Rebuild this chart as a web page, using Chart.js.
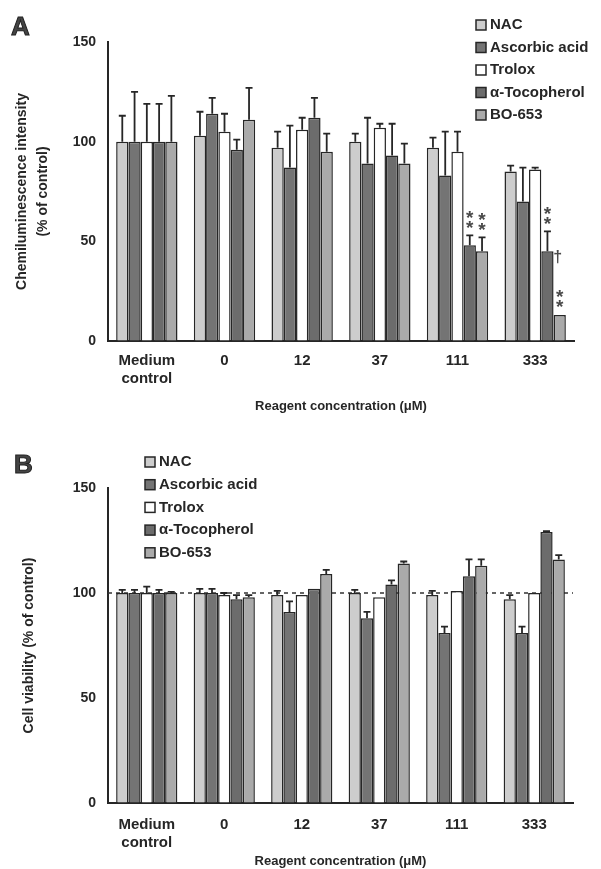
<!DOCTYPE html>
<html><head><meta charset="utf-8">
<script src="https://cdn.jsdelivr.net/npm/chart.js@4"></script>
<style>
html,body{margin:0;padding:0;background:#fff;}
#wrap{position:relative;width:601px;height:869px;overflow:hidden;}
.panel{position:absolute;left:0;width:601px;}
canvas{display:block;}
</style></head><body>
<div id="wrap">
<div class="panel" style="top:0;height:420px"><canvas id="cA" width="601" height="420"></canvas></div>
<div class="panel" style="top:420px;height:449px"><canvas id="cB" width="601" height="449"></canvas></div>
</div>
<script>
// ---------- data ----------
const categories = [['Medium', 'control'], '0', '12', '37', '111', '333'];
const seriesNames = ['NAC', 'Ascorbic acid', 'Trolox', 'α-Tocopherol', 'BO-653'];
const yTicks = [0, 50, 100, 150];

// Panel A: chemiluminescence intensity (% of control), mean and upper SD
const nacA = [100, 103, 97, 100, 97, 85];
const ascA = [100, 114, 87, 89, 83, 70];
const troA = [100, 105, 106, 107, 95, 86];
const tocA = [100, 96, 112, 93, 48, 45];
const boA  = [100, 111, 95, 89, 45, 13];
const nacAsd = [13, 12, 8, 4, 5, 3];
const ascAsd = [25, 8, 21, 23, 22, 17];
const troAsd = [19, 9, 6, 2, 10, 1];
const tocAsd = [19, 5, 10, 16, 5, 10];
const boAsd  = [23, 16, 9, 10, 7, 0];

// Panel A significance marks: category index, series index, mark
const markCats   = [4, 4, 5, 5, 5];
const markSeries = [3, 4, 3, 4, 4];
const markTexts  = ['**', '**', '**', '**', '†'];

// Panel B: cell viability (% of control), mean and upper SD
const nacB = [100, 100, 99, 100, 99, 97];
const ascB = [100, 100, 91, 88, 81, 81];
const troB = [100, 99, 99, 98, 101, 100];
const tocB = [100, 97, 102, 104, 108, 129];
const boB  = [100, 98, 109, 114, 113, 116];
const nacBsd = [1.5, 2, 2, 1.5, 2, 2];
const ascBsd = [1.5, 2, 5, 3, 3, 3];
const troBsd = [3, 1, 0, 0, 0, 0];
const tocBsd = [1.5, 2, 0, 2, 8, 0.5];
const boBsd  = [0.5, 1, 2, 1, 3, 2];
const refLineB = 100;

// ---------- styles ----------
const F = '"Liberation Sans", Arial, sans-serif';
const seriesColors = ['#cdcdcd', '#747474', '#ffffff', '#6c6c6c', '#aaaaaa'];
const INK = '#262626';

const decor = {
  id: 'decor',
  beforeDatasetsDraw(chart, args, o) {
    if (o.refLine == null) return;
    const ctx = chart.ctx, y = chart.scales.y, ca = chart.chartArea;
    const py = y.getPixelForValue(o.refLine);
    ctx.save();
    ctx.strokeStyle = '#333'; ctx.lineWidth = 1.5; ctx.setLineDash([4, 4]);
    ctx.beginPath(); ctx.moveTo(ca.left, py); ctx.lineTo(ca.right, py); ctx.stroke();
    ctx.restore();
  },
  afterDatasetsDraw(chart, args, o) {
    const ctx = chart.ctx, y = chart.scales.y;
    ctx.save();
    ctx.strokeStyle = INK; ctx.lineWidth = 1.8;
    chart.data.datasets.forEach((ds, i) => {
      const meta = chart.getDatasetMeta(i);
      meta.data.forEach((bar, j) => {
        const sd = o.errors[i][j];
        if (!sd) return;
        const yb = y.getPixelForValue(ds.data[j]);
        const yt = y.getPixelForValue(ds.data[j] + sd);
        ctx.beginPath();
        ctx.moveTo(bar.x, yb); ctx.lineTo(bar.x, yt);
        ctx.moveTo(bar.x - 3.5, yt); ctx.lineTo(bar.x + 3.5, yt);
        ctx.stroke();
      });
    });
    // significance marks
    if (o.marks) {
      ctx.fillStyle = '#4a4a4a';
      ctx.textAlign = 'center'; ctx.textBaseline = 'middle';
      o.marks.cats.forEach((c, k) => {
        const s = o.marks.series[k];
        const bar = chart.getDatasetMeta(s).data[c];
        const top = chart.data.datasets[s].data[c] + (o.errors[s][c] || 0);
        const py = y.getPixelForValue(top);
        const t = o.marks.texts[k];
        if (t === '**') {
          ctx.font = 'bold 19px ' + F;
          ctx.fillText('*', bar.x, py - 7);
          ctx.fillText('*', bar.x, py - 17);
        } else {
          ctx.font = 'bold 16px ' + F;
          ctx.fillText(t, bar.x - 2, py - 57);
        }
      });
    }
    ctx.restore();
  },
  afterDraw(chart, args, o) {
    const ctx = chart.ctx;
    ctx.save();
    // panel letter
    ctx.font = 'bold 26px ' + F;
    ctx.fillStyle = '#444'; ctx.strokeStyle = '#222'; ctx.lineWidth = 1;
    ctx.textAlign = 'left'; ctx.textBaseline = 'alphabetic';
    ctx.fillText(o.letter, o.letterX, o.letterY);
    ctx.strokeText(o.letter, o.letterX, o.letterY);
    // legend
    ctx.font = 'bold 15px ' + F;
    ctx.textBaseline = 'middle';
    chart.data.datasets.forEach((ds, i) => {
      const cy = o.legY + i * o.legStep;
      ctx.fillStyle = ds.backgroundColor;
      ctx.fillRect(o.legX, cy - 5, 10, 10);
      ctx.strokeStyle = INK; ctx.lineWidth = 1.5;
      ctx.strokeRect(o.legX, cy - 5, 10, 10);
      ctx.fillStyle = INK;
      ctx.fillText(ds.label, o.legX + 14, cy);
    });
    ctx.restore();
  }
};

function makeChart(id, cfg) {
  return new Chart(document.getElementById(id), {
    type: 'bar',
    data: {
      labels: categories,
      datasets: seriesNames.map((n, i) => ({
        label: n, data: cfg.values[i],
        backgroundColor: seriesColors[i], borderColor: INK, borderWidth: 1.5,
        categoryPercentage: 0.79, barPercentage: 1.0
      }))
    },
    options: {
      responsive: false, animation: false, devicePixelRatio: 1,
      layout: { padding: { left: 0, right: cfg.padRight, top: cfg.padTop, bottom: 0 } },
      plugins: {
        legend: { display: false }, tooltip: { enabled: false },
        decor: cfg.decor
      },
      scales: {
        x: {
          grid: { display: true, drawOnChartArea: false, drawTicks: false },
          border: { display: true, color: INK, width: 2 },
          ticks: { color: INK, font: { family: F, size: 15, weight: 'bold', lineHeight: cfg.xLine },
                   padding: cfg.xTickPad, maxRotation: 0, autoSkip: false },
          title: { display: true, text: 'Reagent concentration (μM)', color: INK,
                   font: { family: F, size: 13, weight: 'bold', lineHeight: 1.2 },
                   padding: { top: 0, bottom: cfg.xTitlePad } },
          afterFit: s => { s.height = cfg.xHeight; }
        },
        y: {
          min: 0, max: 150,
          afterBuildTicks: s => { s.ticks = yTicks.map(v => ({ value: v })); },
          grid: { display: true, drawOnChartArea: false, drawTicks: false },
          border: { display: true, color: INK, width: 2 },
          ticks: { color: INK, font: { family: F, size: 14, weight: 'bold' }, padding: 12 },
          title: { display: true, text: cfg.yTitle, color: INK,
                   font: { family: F, size: 14, weight: 'bold', lineHeight: 1.5 },
                   padding: { top: cfg.yTitlePad, bottom: 0 } },
          afterFit: s => { s.width = 108; }
        }
      }
    },
    plugins: [decor]
  });
}

makeChart('cA', {
  values: [nacA, ascA, troA, tocA, boA],
  padTop: 42, padRight: 27, xHeight: 79, xTickPad: 10, xLine: 1.25, xTitlePad: 6,
  yTitle: ['Chemiluminescence intensity', '(% of control)'], yTitlePad: 12,
  decor: {
    errors: [nacAsd, ascAsd, troAsd, tocAsd, boAsd],
    marks: { cats: markCats, series: markSeries, texts: markTexts },
    refLine: null,
    letter: 'A', letterX: 11, letterY: 35,
    legX: 476, legY: 25, legStep: 22.5
  }
});

makeChart('cB', {
  values: [nacB, ascB, troB, tocB, boB],
  padTop: 68, padRight: 28, xHeight: 66, xTickPad: 13, xLine: 1.2, xTitlePad: 0,
  yTitle: 'Cell viability (% of control)', yTitlePad: 19,
  decor: {
    errors: [nacBsd, ascBsd, troBsd, tocBsd, boBsd],
    marks: null,
    refLine: refLineB,
    letter: 'B', letterX: 14, letterY: 53,
    legX: 145, legY: 42, legStep: 22.7
  }
});
</script>
</body></html>
